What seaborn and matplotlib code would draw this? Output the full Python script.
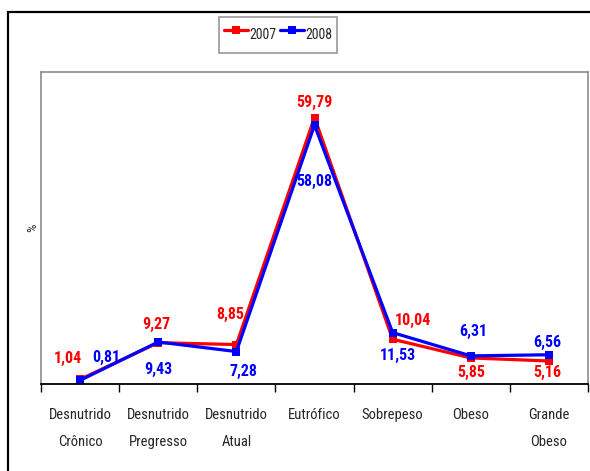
import pandas as pd
import matplotlib.pyplot as plt
import seaborn as sns
from matplotlib.patches import Rectangle

# -----------------------------
# Data
# -----------------------------

categories = [
    "Desnutrido\nCrônico",
    "Desnutrido\nPregresso",
    "Desnutrido\nAtual",
    "Eutrófico",
    "Sobrepeso",
    "Obeso",
    "Grande\nObeso",
]

values_2007 = [1.04, 9.27, 8.85, 59.79, 10.04, 5.85, 5.16]
values_2008 = [0.81, 9.43, 7.28, 58.08, 11.53, 6.31, 6.56]

years = ["2007", "2008"]

# label offsets (pixels) for the data labels
offsets_2007 = [(-12, 21), (-2, 18), (-6, 30), (0, 15), (20, 19), (0, -15), (-2, -11)]
offsets_2008 = [(26, 23), (0, -28), (7, -20), (0, -56), (5, -23), (3, 24), (-2, 12)]

df = pd.DataFrame({
    "Categoria": categories * 2,
    "Valor": values_2007 + values_2008,
    "Ano": [years[0]] * len(categories) + [years[1]] * len(categories),
})

# -----------------------------
# Style
# -----------------------------

sns.set_style("white")
plt.rcParams["font.family"] = ["Roboto Condensed", "Liberation Sans", "DejaVu Sans"]

fig = plt.figure(figsize=(5.9, 4.71), dpi=100)
ax = fig.add_axes([41 / 590, 1 - 384 / 471, (588 - 41) / 590, (384 - 72) / 471])

colors = {"2007": "#ff0000", "2008": "#0000ff"}

sns.lineplot(
    data=df,
    x="Categoria",
    y="Valor",
    hue="Ano",
    palette=colors,
    style="Ano",
    markers={"2007": "s", "2008": "s"},
    dashes=False,
    sort=False,
    linewidth=2.3,
    markersize=6,
    markeredgewidth=0,
    ax=ax,
)

# -----------------------------
# Data labels
# -----------------------------

for i, cat in enumerate(categories):
    for vals, offs, year in [
        (values_2007, offsets_2007, "2007"),
        (values_2008, offsets_2008, "2008"),
    ]:
        ax.annotate(
            f"{vals[i]:.2f}".replace(".", ","),
            xy=(i, vals[i]),
            xytext=offs[i],
            textcoords="offset pixels",
            ha="center",
            va="center",
            color=colors[year],
            fontsize=11.5,
            fontweight="bold",
        )

# -----------------------------
# Axes
# -----------------------------

ax.set_xlim(-0.5, len(categories) - 0.5)
ax.set_ylim(0, 70)
ax.set_yticks([])
ax.set_xlabel("")
ax.set_ylabel("%", fontsize=9.5, labelpad=1)

ax.set_xticks(range(len(categories)))
ax.set_xticklabels(categories, fontsize=10.5, linespacing=2.25)
ax.set_xticks([x - 0.5 for x in range(len(categories) + 1)], minor=True)
ax.tick_params(axis="x", which="major", length=0, pad=17)
ax.tick_params(axis="x", which="minor", length=6, width=1, color="black",
               direction="out", bottom=True)

for side in ["left", "top", "right"]:
    ax.spines[side].set_color("#8c8c8c")
    ax.spines[side].set_linewidth(1.2)
ax.spines["bottom"].set_color("black")
ax.spines["bottom"].set_linewidth(1.3)

# -----------------------------
# Legend
# -----------------------------

handles, labels = ax.get_legend_handles_labels()
ax.get_legend().remove()
leg = fig.legend(
    handles,
    labels,
    loc="center",
    bbox_to_anchor=(278 / 590, 1 - 35 / 471),
    ncol=2,
    fontsize=10,
    frameon=True,
    fancybox=False,
    edgecolor="#7f7f7f",
    handlelength=1.75,
    handleheight=2.6,
    handletextpad=0.1,
    columnspacing=0.25,
    borderpad=0.3,
    borderaxespad=0,
)
leg.get_frame().set_linewidth(1.2)

# -----------------------------
# Outer frame
# -----------------------------

fig.patches.append(Rectangle(
    (8 / 590, -0.1),
    1.2,
    1 - 12 / 471 + 0.1,
    transform=fig.transFigure,
    fill=False,
    edgecolor="black",
    linewidth=1.6,
))

plt.savefig("out.png", dpi=100)
plt.close()
